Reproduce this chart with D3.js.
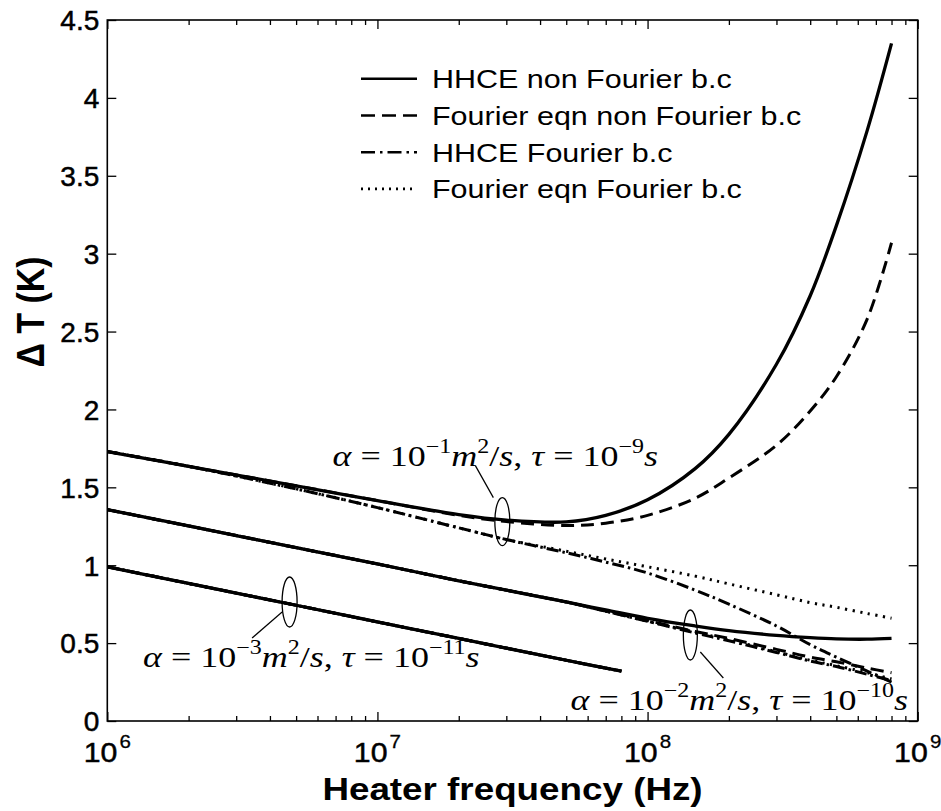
<!DOCTYPE html>
<html>
<head>
<meta charset="utf-8">
<script src="https://cdn.jsdelivr.net/npm/d3@7"></script>
<style>
  body { margin: 0; background: #fff; }
  svg { display: block; }
</style>
</head>
<body>
<svg id="chart" width="941" height="811"></svg>
<script>
// Heater frequency grid (Hz) for the alpha = 1e-1 and 1e-2 cases
const freqs = [1e6, 2e6, 5e6, 1e7, 2e7, 3e7, 5e7, 7e7, 1e8, 1.5e8, 2e8, 3e8, 4e8, 5e8, 6.5e8, 8e8];

// alpha = 1e-1 m^2/s, tau = 1e-9 s
const a1HhceNonFourier    = [1.73, 1.635, 1.51, 1.415, 1.325, 1.29, 1.278, 1.32, 1.42, 1.62, 1.84, 2.29, 2.73, 3.18, 3.79, 4.35];
const a1FourierNonFourier = [1.73, 1.635, 1.51, 1.415, 1.32, 1.28, 1.255, 1.27, 1.32, 1.43, 1.56, 1.77, 1.99, 2.21, 2.58, 3.07];
const a1HhceFourier       = [1.73, 1.635, 1.49, 1.37, 1.24, 1.165, 1.08, 1.02, 0.95, 0.84, 0.75, 0.61, 0.49, 0.41, 0.32, 0.25];
const a1FourierFourier    = [1.73, 1.635, 1.49, 1.37, 1.24, 1.165, 1.09, 1.04, 0.99, 0.93, 0.88, 0.81, 0.76, 0.73, 0.69, 0.66];

// alpha = 1e-2 m^2/s, tau = 1e-10 s
const a2HhceNonFourier    = [1.357, 1.252, 1.113, 1.008, 0.90, 0.84, 0.764, 0.713, 0.659, 0.61, 0.58, 0.55, 0.535, 0.527, 0.525, 0.53];
const a2FourierNonFourier = [1.357, 1.252, 1.113, 1.008, 0.90, 0.84, 0.764, 0.706, 0.645, 0.575, 0.53, 0.46, 0.41, 0.38, 0.34, 0.31];
const a2HhceFourier       = [1.357, 1.252, 1.113, 1.008, 0.90, 0.84, 0.764, 0.705, 0.64, 0.565, 0.515, 0.44, 0.385, 0.35, 0.30, 0.26];
const a2FourierFourier    = [1.357, 1.252, 1.113, 1.008, 0.90, 0.84, 0.764, 0.705, 0.64, 0.57, 0.52, 0.445, 0.39, 0.355, 0.31, 0.27];

// alpha = 1e-3 m^2/s, tau = 1e-11 s (all four models coincide here)
const freqsA3 = [1e6, 2e6, 5e6, 1e7, 2e7, 5e7, 8e7];
const a3HhceNonFourier    = [0.99, 0.883, 0.743, 0.636, 0.53, 0.39, 0.32];
const a3FourierNonFourier = [0.99, 0.883, 0.743, 0.636, 0.53, 0.39, 0.32];
const a3HhceFourier       = [0.99, 0.883, 0.743, 0.636, 0.53, 0.39, 0.32];
const a3FourierFourier    = [0.99, 0.883, 0.743, 0.636, 0.53, 0.39, 0.32];

const seriesNames = ["HHCE non Fourier b.c", "Fourier eqn non Fourier b.c", "HHCE Fourier b.c", "Fourier eqn Fourier b.c"];
const yTicks = [0, 0.5, 1, 1.5, 2, 2.5, 3, 3.5, 4, 4.5];
const xMajorTicks = [1e6, 1e7, 1e8, 1e9];
const xTickExponents = ["6", "7", "8", "9"];

// ---------------------------------------------------------------
(function draw() {
const svg = d3.select("#chart");
svg.append("rect").attr("width", 941).attr("height", 811).attr("fill", "#fff");

const plotLeft = 107.3, plotRight = 917.7, plotTop = 20, plotBottom = 721;
const x = d3.scaleLog().domain([1e6, 1e9]).range([plotLeft, plotRight]);
const y = d3.scaleLinear().domain([0, 4.5]).range([plotBottom, plotTop]);

// line style per model (same order as seriesNames)
const styles = [
  { dash: null,          width: 3.3 },
  { dash: "13,7",        width: 3.0 },
  { dash: "12,4,2.5,4",  width: 3.0 },
  { dash: "2.2,5.5",     width: 3.0 }
];

const groups = [
  { f: freqs,   s: [a1HhceNonFourier, a1FourierNonFourier, a1HhceFourier, a1FourierFourier] },
  { f: freqs,   s: [a2HhceNonFourier, a2FourierNonFourier, a2HhceFourier, a2FourierFourier] },
  { f: freqsA3, s: [a3HhceNonFourier, a3FourierNonFourier, a3HhceFourier, a3FourierFourier] }
];

const line = d3.line()
  .x(d => x(d[0]))
  .y(d => y(d[1]))
  .curve(d3.curveCatmullRom.alpha(0.5));

const plot = svg.append("g");
// dotted first, solid last so it sits on top
[3, 2, 1, 0].forEach(k => {
  groups.forEach(g => {
    const pts = g.f.map((f, i) => [f, g.s[k][i]]);
    plot.append("path")
      .attr("d", line(pts))
      .attr("fill", "none")
      .attr("stroke", "#000")
      .attr("stroke-width", styles[k].width)
      .attr("stroke-dasharray", styles[k].dash)
      .attr("stroke-linecap", "butt");
  });
});

// ---- axes: ticks pointing inward on all four sides
const minorTicks = [];
[1e6, 1e7, 1e8].forEach(d => { for (let m = 2; m <= 9; m++) minorTicks.push(d * m); });

function noDomain(g) { g.select(".domain").remove(); }

svg.append("g").attr("transform", `translate(0,${plotBottom})`)
  .call(d3.axisBottom(x).tickValues(xMajorTicks).tickSize(-9).tickFormat(""))
  .call(noDomain);
svg.append("g").attr("transform", `translate(0,${plotBottom})`)
  .call(d3.axisBottom(x).tickValues(minorTicks).tickSize(-5).tickFormat(""))
  .call(noDomain);
svg.append("g").attr("transform", `translate(0,${plotTop})`)
  .call(d3.axisTop(x).tickValues(xMajorTicks).tickSize(-9).tickFormat(""))
  .call(noDomain);
svg.append("g").attr("transform", `translate(0,${plotTop})`)
  .call(d3.axisTop(x).tickValues(minorTicks).tickSize(-5).tickFormat(""))
  .call(noDomain);

const yAxis = svg.append("g").attr("transform", `translate(${plotLeft},0)`)
  .call(d3.axisLeft(y).tickValues(yTicks).tickSize(-9).tickPadding(8).tickFormat(d => String(d)))
  .call(noDomain);
yAxis.selectAll("text")
  .attr("font-family", "'Liberation Sans', Arial, sans-serif")
  .attr("font-size", 28)
  .attr("fill", "#000")
  .attr("stroke", "#000")
  .attr("stroke-width", 0.5)
  .attr("dy", "0.35em");
svg.append("g").attr("transform", `translate(${plotRight},0)`)
  .call(d3.axisRight(y).tickValues(yTicks).tickSize(-9).tickFormat(""))
  .call(noDomain);

svg.selectAll(".tick line").attr("stroke", "#000").attr("stroke-width", 1.3);

// frame
svg.append("rect")
  .attr("x", plotLeft).attr("y", plotTop)
  .attr("width", plotRight - plotLeft).attr("height", plotBottom - plotTop)
  .attr("fill", "none").attr("stroke", "#000").attr("stroke-width", 1.6);

// x tick labels as powers of ten
xMajorTicks.forEach((t, i) => {
  const tx = svg.append("text")
    .attr("transform", `translate(${x(t)},762) scale(1.08,1)`)
    .attr("text-anchor", "middle")
    .attr("font-family", "'Liberation Sans', Arial, sans-serif")
    .attr("font-size", 28)
    .attr("stroke", "#000")
    .attr("stroke-width", 0.5);
  tx.append("tspan").text("10");
  tx.append("tspan").attr("dx", 2).attr("dy", -14).attr("font-size", 19).attr("stroke-width", 0.3).text(xTickExponents[i]);
});

// axis titles
svg.append("text")
  .attr("transform", `translate(${(plotLeft + plotRight) / 2},800) scale(1.15,1)`)
  .attr("text-anchor", "middle")
  .attr("font-family", "'Liberation Sans', Arial, sans-serif")
  .attr("font-weight", "bold")
  .attr("font-size", 32)
  .text("Heater frequency (Hz)");

svg.append("text")
  .attr("transform", `translate(44,312) scale(1.12,1) rotate(-90)`)
  .attr("text-anchor", "middle")
  .attr("font-family", "'Liberation Sans', Arial, sans-serif")
  .attr("font-weight", "bold")
  .attr("font-size", 34)
  .text("\u0394 T (K)");

// ---- legend
const legend = svg.append("g");
const legendDash = [null, "14,7", "14,5,2.5,5", "2,5"];
seriesNames.forEach((name, i) => {
  const base = 88.3 + i * 36.7;
  legend.append("line")
    .attr("x1", 361).attr("x2", 417)
    .attr("y1", base - 9.5).attr("y2", base - 9.5)
    .attr("stroke", "#000")
    .attr("stroke-width", 2.6)
    .attr("stroke-dasharray", legendDash[i]);
  legend.append("text")
    .attr("transform", `translate(432,${base}) scale(1.15,1)`)
    .attr("font-family", "'Liberation Sans', Arial, sans-serif")
    .attr("font-size", 26.5)
    .text(name);
});

// ---- parameter annotations: ellipse around the curves, leader line, label
const annotations = [
  { f: 2.9e7, v: 1.28, rx: 7.5, ry: 24, lead: [[-9, -24], [-27, -56]],
    anchor: "end", lx: 658, ly: 466,
    parts: [["\u03b1", "i"], [" = 10", "r"], ["\u22121", "sup"], ["m", "i"], ["2", "sup"], ["/", "r"], ["s", "i"], [", ", "r"], ["\u03c4", "i"], [" = 10", "r"], ["\u22129", "sup"], ["s", "i"]] },
  { f: 1.44e8, v: 0.552, rx: 7, ry: 25, lead: [[10, 17], [33, 43]],
    anchor: "end", lx: 908, ly: 710,
    parts: [["\u03b1", "i"], [" = 10", "r"], ["\u22122", "sup"], ["m", "i"], ["2", "sup"], ["/", "r"], ["s", "i"], [", ", "r"], ["\u03c4", "i"], [" = 10", "r"], ["\u221210", "sup"], ["s", "i"]] },
  { f: 4.73e6, v: 0.764, rx: 7.5, ry: 25, lead: [[-7.5, 10], [-37.5, 36]],
    anchor: "start", lx: 143, ly: 667,
    parts: [["\u03b1", "i"], [" = 10", "r"], ["\u22123", "sup"], ["m", "i"], ["2", "sup"], ["/", "r"], ["s", "i"], [", ", "r"], ["\u03c4", "i"], [" = 10", "r"], ["\u221211", "sup"], ["s", "i"]] }
];

const ann = svg.append("g");
annotations.forEach(a => {
  const cx = x(a.f), cy = y(a.v);
  ann.append("ellipse")
    .attr("cx", cx).attr("cy", cy).attr("rx", a.rx).attr("ry", a.ry)
    .attr("fill", "none").attr("stroke", "#000").attr("stroke-width", 1.3);
  ann.append("line")
    .attr("x1", cx + a.lead[0][0]).attr("y1", cy + a.lead[0][1])
    .attr("x2", cx + a.lead[1][0]).attr("y2", cy + a.lead[1][1])
    .attr("stroke", "#000").attr("stroke-width", 1.2);

  const t = ann.append("text")
    .attr("transform", `translate(${a.lx},${a.ly}) scale(1.2,1)`)
    .attr("text-anchor", a.anchor)
    .attr("font-family", "'Liberation Serif', 'Times New Roman', serif")
    .attr("font-size", 30)
    .attr("xml:space", "preserve");
  let raised = false;
  a.parts.forEach(([txt, kind]) => {
    const sp = t.append("tspan").text(txt);
    if (kind === "i") sp.attr("font-style", "italic");
    if (kind === "sup") {
      sp.attr("font-size", 20).attr("dy", -13);
      raised = true;
    } else if (raised) {
      sp.attr("dy", 13);
      raised = false;
    }
  });
});
})();
</script>
</body>
</html>
